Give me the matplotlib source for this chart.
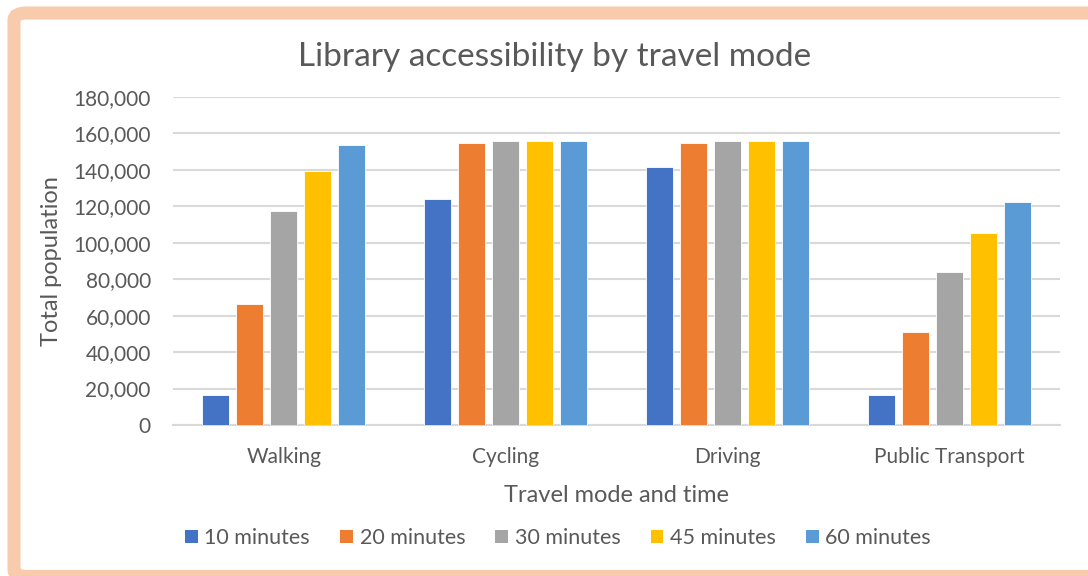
import numpy as np
import matplotlib.pyplot as plt
from matplotlib.patches import FancyBboxPatch, Patch
from matplotlib.ticker import FuncFormatter

plt.rcParams['font.family'] = ['Lato', 'DejaVu Sans']

modes = ['Walking', 'Cycling', 'Driving', 'Public Transport']
times = ['10 minutes', '20 minutes', '30 minutes', '45 minutes', '60 minutes']
colors = ['#4472C4', '#ED7D31', '#A5A5A5', '#FFC000', '#5B9BD5']

pop_10 = [16500, 123900, 141600, 16500]
pop_20 = [66400, 154800, 154600, 51000]
pop_30 = [117600, 155700, 155700, 84000]
pop_45 = [139300, 155700, 155700, 105500]
pop_60 = [153800, 155700, 155700, 122200]
series = [pop_10, pop_20, pop_30, pop_45, pop_60]

TXT = '#595959'
GRID = '#D9D9D9'

fig = plt.figure(figsize=(10.88, 5.76), dpi=100)
ax = fig.add_axes([173/1088, 1 - 425/576, 887/1088, 328/576])

x = np.arange(len(modes))
pitch = 34 / 221.75
width = 27 / 221.75
for i, (vals, c, lab) in enumerate(zip(series, colors, times)):
    ax.bar(x + (i - 2) * pitch, vals, width, color=c, edgecolor='white',
           linewidth=0.6, label=lab, zorder=3)

ax.set_xlim(-0.5, len(modes) - 0.5)
ax.set_ylim(0, 180000)
ax.set_yticks(np.arange(0, 180001, 20000))
ax.yaxis.set_major_formatter(FuncFormatter(lambda v, p: f'{int(v):,}'))
ax.set_xticks(x)
ax.set_xticklabels(modes)
ax.grid(axis='y', color=GRID, linewidth=1.5, zorder=0)
for s in ['top', 'right', 'left']:
    ax.spines[s].set_visible(False)
ax.spines['bottom'].set_color(GRID)
ax.spines['bottom'].set_linewidth(1.5)
ax.tick_params(length=0, labelsize=15, colors=TXT)
ax.tick_params(axis='x', pad=16)
ax.tick_params(axis='y', pad=16)

ax.set_xlabel('Travel mode and time', fontsize=17, color=TXT, labelpad=13)
ax.set_ylabel('Total population', fontsize=17, color=TXT, labelpad=8)
fig.text(555/1088, 1 - 57/576, 'Library accessibility by travel mode',
         ha='center', va='center', fontsize=24, color=TXT)

handles = [Patch(facecolor=c, edgecolor='none') for c in colors]
fig.legend(handles, times, loc='center', bbox_to_anchor=(558/1088, 1 - 538/576),
           ncol=5, frameon=False, fontsize=15.5, handlelength=0.6, handleheight=0.6,
           handletextpad=0.3, columnspacing=1.4, labelcolor=TXT)

border = FancyBboxPatch((14/1088, -0.5/576), 1100/1088, 563.5/576,
                        boxstyle='round,pad=0,rounding_size=0.012',
                        transform=fig.transFigure, fill=False,
                        edgecolor='#F8CBAD', linewidth=9.4, clip_on=False)
fig.patches.append(border)

fig.savefig('out.png', dpi=100)
